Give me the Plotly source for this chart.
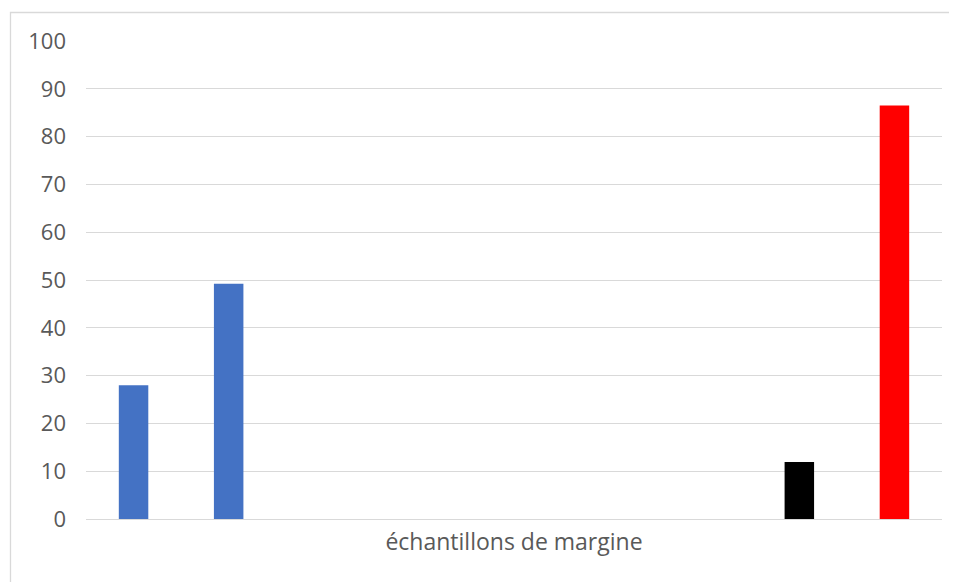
import plotly.graph_objects as go

category = ["échantillons de margine"]
series_names = ["Série 1", "Série 2", "Série 3", "Série 4", "Série 5",
                "Série 6", "Série 7", "Série 8", "Série 9"]
series_values = [28.0, 49.2, None, None, None, None, None, 11.9, 86.5]
series_colors = ["#4472C4", "#4472C4", "#4472C4", "#4472C4", "#4472C4",
                 "#4472C4", "#4472C4", "#000000", "#FF0000"]
y_ticks = [0, 10, 20, 30, 40, 50, 60, 70, 80, 90, 100]

fig = go.Figure()
for name, val, col in zip(series_names, series_values, series_colors):
    fig.add_trace(go.Bar(x=category, y=[val], name=name, marker_color=col,
                         marker_line_width=0))

# page has an 8px body margin; figure sized so plot lands where the reference has it
OFF = 8
W, H = 957 - OFF, 582 - OFF
ml, mr, mt, mb = 86 - OFF, 15, 41 - OFF, 63
pw, ph = W - ml - mr, H - mt - mb

def px_to_paper_x(px):
    return (px - OFF - ml) / pw

def px_to_paper_y(py):
    return (H - mb - (py - OFF)) / ph

fig.update_layout(
    width=W, height=H,
    margin=dict(l=ml, r=mr, t=mt, b=mb),
    barmode="group", bargap=0.0, bargroupgap=0.69,
    showlegend=False,
    plot_bgcolor="white", paper_bgcolor="white",
    font=dict(family="Open Sans", color="#595959", size=21),
    xaxis=dict(showgrid=False, showline=False, zeroline=False, ticks="",
               tickfont=dict(size=23, color="#595959"), ticklabelstandoff=7,
               fixedrange=True),
    yaxis=dict(range=[0, 100], tickvals=y_ticks, showgrid=True,
               gridcolor="#D9D9D9", gridwidth=1.3, zeroline=True,
               zerolinecolor="#D9D9D9", zerolinewidth=1.3, showline=False,
               ticks="", ticklabelstandoff=19,
               tickfont=dict(size=22, color="#595959")),
    shapes=[dict(type="rect", xref="paper", yref="paper",
                 x0=px_to_paper_x(10.5), x1=px_to_paper_x(975),
                 y0=px_to_paper_y(600), y1=px_to_paper_y(12.5),
                 line=dict(color="#D9D9D9", width=1.3), fillcolor="rgba(0,0,0,0)",
                 layer="below")],
)

fig.write_html("out.html")
